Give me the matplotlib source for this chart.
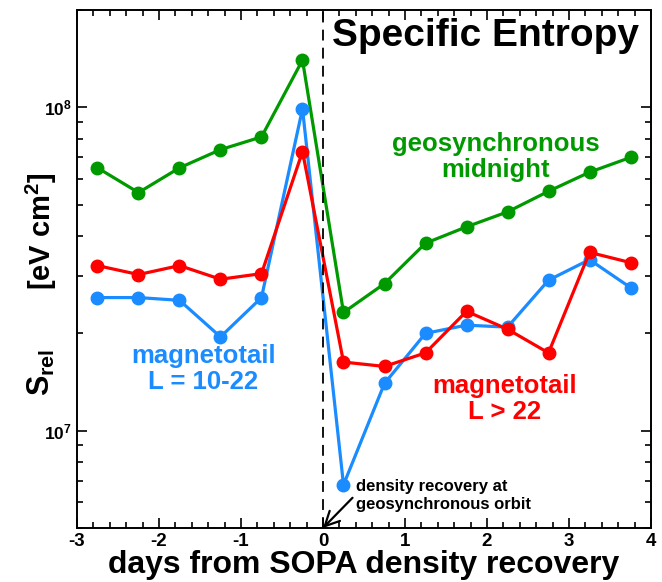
import numpy as np
import matplotlib
matplotlib.use("Agg")
import matplotlib.pyplot as plt

plt.rcParams['font.family'] = ['Liberation Sans', 'DejaVu Sans']
plt.rcParams['font.weight'] = 'bold'
plt.rcParams['axes.unicode_minus'] = False
plt.rcParams['mathtext.fontset'] = 'custom'
plt.rcParams['mathtext.rm'] = 'Liberation Sans:bold'
plt.rcParams['mathtext.bf'] = 'Liberation Sans:bold'
plt.rcParams['mathtext.it'] = 'Liberation Sans:bold'

# days from SOPA density recovery
days = [-2.75, -2.25, -1.75, -1.25, -0.75, -0.25, 0.25, 0.75, 1.25, 1.75, 2.25, 2.75, 3.25, 3.75]

# specific entropy S_rel [eV cm^2]
geo_midnight = [6.5e7, 5.45e7, 6.5e7, 7.4e7, 8.1e7, 1.4e8, 2.32e7, 2.85e7, 3.8e7, 4.27e7, 4.75e7, 5.5e7, 6.3e7, 7.0e7]
tail_gt22 = [3.24e7, 3.04e7, 3.24e7, 2.94e7, 3.06e7, 7.3e7, 1.63e7, 1.58e7, 1.74e7, 2.34e7, 2.06e7, 1.74e7, 3.56e7, 3.31e7]
tail_10_22 = [2.58e7, 2.58e7, 2.53e7, 1.95e7, 2.58e7, 9.9e7, 6.8e6, 1.4e7, 2.0e7, 2.12e7, 2.09e7, 2.92e7, 3.38e7, 2.77e7]

green = "#009a00"
red = "#ff0000"
blue = "#1a8cff"

fig = plt.figure(figsize=(6.62, 5.82), dpi=100)
ax = fig.add_axes([0.1163, 0.0928, 0.8671, 0.89])

ax.plot(days, geo_midnight, '-o', color=green, lw=2.3, ms=9)
ax.plot(days, tail_10_22, '-o', color=blue, lw=2.3, ms=9)
ax.plot(days, tail_gt22, '-o', color=red, lw=2.3, ms=9)

ax.axvline(0, color='k', ls=(0, (6, 4)), lw=1.3)

ax.set_yscale('log')
ax.set_xlim(-3, 4)
ax.set_ylim(5e6, 2e8)
ax.set_xticks(range(-3, 5))
ax.set_xticks(np.arange(-3, 4.01, 0.2), minor=True)
ax.set_yticks([1e7, 1e8])
ax.set_yticklabels([r'$10^7$', r'$10^8$'])
ax.tick_params(which='both', direction='in', top=True, right=True, width=1.2)
ax.tick_params(which='major', length=7, labelsize=13.5)
ax.tick_params(which='minor', length=4)
ax.tick_params(axis='y', labelsize=12.5)
for sp in ax.spines.values():
    sp.set_linewidth(1.4)

ax.set_xlabel("days from SOPA density recovery", fontsize=23, fontweight='bold', labelpad=0)

fig.text(0.062, 0.36, r'$\mathbf{S_{rel}}$', rotation=90, fontsize=22, ha='center', va='center')
fig.text(0.062, 0.603, r'[eV cm$^2$]', rotation=90, fontsize=21, fontweight='bold', ha='center', va='center')

ax.text(0.11, 1.66e8, "Specific Entropy", fontsize=28, fontweight='bold', ha='left', va='center')
ax.text(2.11, 7.0e7, "geosynchronous\nmidnight", color=green, fontsize=18.5, fontweight='bold',
        ha='center', va='center', linespacing=1.1)
ax.text(-1.46, 1.55e7, "magnetotail\nL = 10-22", color=blue, fontsize=18.5, fontweight='bold',
        ha='center', va='center', linespacing=1.1)
ax.text(2.22, 1.25e7, "magnetotail\nL > 22", color=red, fontsize=18.5, fontweight='bold',
        ha='center', va='center', linespacing=1.1)
ax.text(0.4, 6.3e6, "density recovery at\ngeosynchronous orbit", fontsize=12, fontweight='bold',
        ha='left', va='center', linespacing=1.2)
ax.annotate("", xy=(0, 5e6), xytext=(0.36, 6.2e6), annotation_clip=False,
            arrowprops=dict(arrowstyle='->', color='k', lw=1.6, shrinkA=0, shrinkB=0,
                            mutation_scale=26))

plt.savefig("out.png", dpi=100)
